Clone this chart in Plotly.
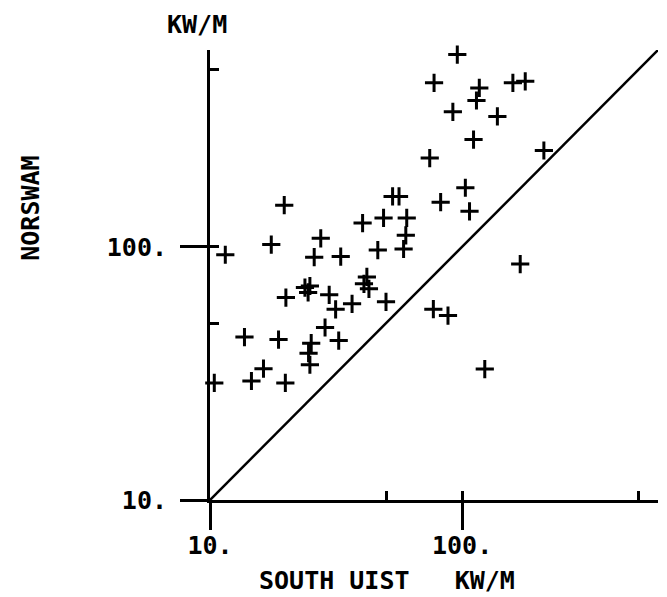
import plotly.graph_objects as go

# South Uist (x) vs NORSWAM (y) wave power, kW/m
south_uist = [11.5, 10.4, 13.7, 14.6, 16.3, 17.5, 18.7, 19.7, 20.0, 19.9,
              23.8, 24.9, 24.5, 25.2, 24.6, 24.9, 25.9, 27.5, 28.6, 29.7,
              31.5, 32.4, 33.0, 36.6, 40.3, 41.9, 40.8, 42.7, 46.3, 48.8,
              49.9, 53.0, 56.2, 60.3, 59.8, 58.6, 74.4, 77.4, 76.9, 82.2,
              87.9, 91.9, 95.7, 103, 107, 111, 114, 117, 123, 138,
              159, 178, 170, 211]
norswam = [93, 29, 44, 29.5, 33, 102, 43, 146, 63, 29,
           69, 70, 66, 41.6, 38, 34.2, 91, 108, 48, 64.6,
           56.6, 42.6, 91.5, 59.5, 124, 76, 71.4, 68.2, 97, 130,
           60.6, 158, 158, 130, 111, 98, 224, 444, 56.7, 150,
           53.5, 341, 574, 171, 138, 265, 378, 424, 32.9, 327,
           444, 450, 85.4, 240]

# reference line y = x
line_x = [10, 600]
line_y = [10, 600]

major_ticks = [10, 100]
major_text = ["10.", "100."]
minor_ticks = [10, 50, 100, 500]

FONT = "DejaVu Sans Mono"
axis_range = [1, 2.777]
tfont = dict(family=FONT, size=25, color="black", weight="bold")

fig = go.Figure()
fig.add_trace(go.Scatter(
    x=south_uist, y=norswam, mode="markers",
    marker=dict(symbol="cross-thin", size=13, color="black",
                line=dict(color="black", width=3)),
    cliponaxis=False, showlegend=False, hoverinfo="x+y"))
fig.add_trace(go.Scatter(
    x=line_x, y=line_y, mode="lines", xaxis="x2", yaxis="y2",
    line=dict(color="black", width=2.5), showlegend=False, hoverinfo="skip"))

common = dict(type="log", range=axis_range, showgrid=False, zeroline=False)
fig.update_layout(
    width=667, height=597,
    margin=dict(l=210, r=9, t=50, b=97),
    paper_bgcolor="white", plot_bgcolor="white",
    font=tfont,
    xaxis=dict(**common, showline=True, linecolor="black", linewidth=3,
               tickmode="array", tickvals=major_ticks, ticktext=major_text,
               ticks="outside", ticklen=27, tickwidth=3, tickcolor="black",
               ticklabelstandoff=-6, tickfont=tfont),
    yaxis=dict(**common, showline=True, linecolor="black", linewidth=3,
               tickmode="array", tickvals=major_ticks, ticktext=major_text,
               ticks="outside", ticklen=27, tickwidth=3, tickcolor="black",
               ticklabelstandoff=8, tickfont=tfont),
    xaxis2=dict(**common, overlaying="x", anchor="y2", showline=False,
                tickmode="array", tickvals=minor_ticks, ticks="inside",
                ticklen=9, tickwidth=3, tickcolor="black",
                showticklabels=False),
    yaxis2=dict(**common, overlaying="y", anchor="x2", showline=False,
                tickmode="array", tickvals=minor_ticks, ticks="inside",
                ticklen=9, tickwidth=3, tickcolor="black",
                showticklabels=False),
    annotations=[
        dict(text="KW/M", xref="paper", yref="paper", x=-0.03, y=1.056,
             xanchor="center", yanchor="middle", showarrow=False, font=tfont),
        dict(text="NORSWAM", xref="paper", yref="paper", x=-0.40, y=0.649,
             xanchor="center", yanchor="middle", showarrow=False, textangle=-90,
             font=tfont),
        dict(text="SOUTH UIST   KW/M", xref="paper", yref="paper", x=0.394, y=-0.178,
             xanchor="center", yanchor="middle", showarrow=False, font=tfont),
    ],
)

fig.write_html("out.html")
